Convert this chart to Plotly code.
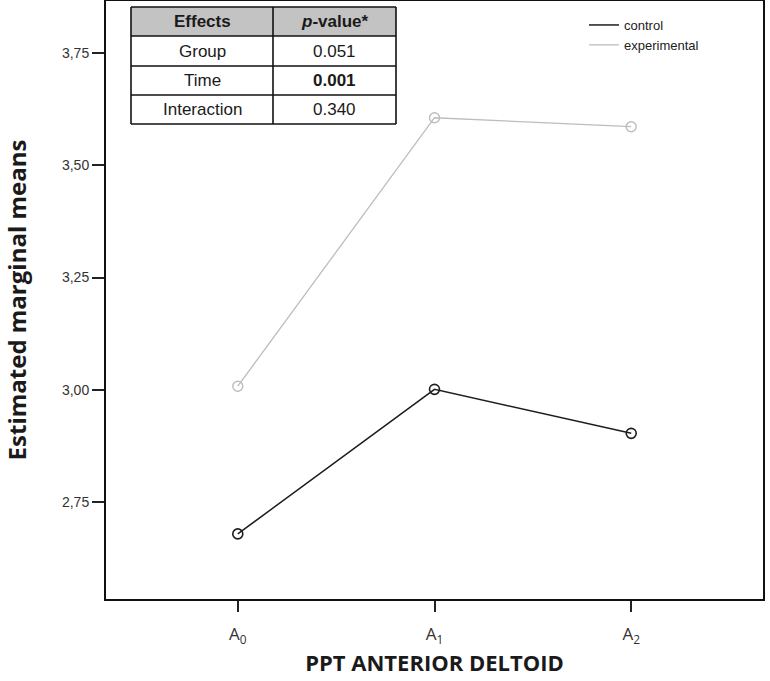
import plotly.graph_objects as go

# ---- data ----
time_points = ["A0", "A1", "A2"]
time_labels = ["A<sub>0</sub>", "A<sub>1</sub>", "A<sub>2</sub>"]
control_means = [2.679, 3.001, 2.903]
experimental_means = [3.008, 3.606, 3.586]
y_ticks = [2.75, 3.00, 3.25, 3.50, 3.75]

table_header = ["<b>Effects</b>", "<b><i>p</i>-value*</b>"]
table_effects = ["Group", "Time", "Interaction"]
table_pvalues = ["0.051", "<b>0.001</b>", "0.340"]

# ---- layout geometry (pixels) ----
W, H = 770, 681
L, R, T, B = 106, 7, 1, 82
PW, PH = W - L - R, H - T - B


def px(xp):
    return (xp - L) / PW


def py(yp):
    return (H - B - yp) / PH


fig = go.Figure()

fig.add_trace(go.Scatter(
    x=time_points, y=control_means, mode="lines+markers",
    line=dict(color="#1e1e1e", width=1.5),
    marker=dict(symbol="circle-open", size=10, color="#1e1e1e", line=dict(width=1.6)),
    showlegend=False, name="control"))
fig.add_trace(go.Scatter(
    x=time_points, y=experimental_means, mode="lines+markers",
    line=dict(color="#bdbdbd", width=1.3),
    marker=dict(symbol="circle-open", size=10, color="#bdbdbd", line=dict(width=1.4)),
    showlegend=False, name="experimental"))
# legend entries (line only)
fig.add_trace(go.Scatter(x=[None], y=[None], mode="lines", name="control",
                         line=dict(color="#1e1e1e", width=1.5)))
fig.add_trace(go.Scatter(x=[None], y=[None], mode="lines", name="experimental",
                         line=dict(color="#bdbdbd", width=1.3)))

# ---- table (shapes + annotations) ----
tx0, tx1, txm = 131, 396, 273
row_y = [7, 36, 66, 95, 124]
shapes = []
shapes.append(dict(type="rect", xref="paper", yref="paper",
                   x0=px(tx0), x1=px(tx1), y0=py(row_y[1]), y1=py(row_y[0]),
                   fillcolor="#c3c3c3", line=dict(width=0), layer="above"))
for yy in row_y:
    shapes.append(dict(type="line", xref="paper", yref="paper",
                       x0=px(tx0), x1=px(tx1), y0=py(yy), y1=py(yy),
                       line=dict(color="#111111", width=1.6), layer="above"))
for xx in (tx0, txm, tx1):
    shapes.append(dict(type="line", xref="paper", yref="paper",
                       x0=px(xx), x1=px(xx), y0=py(row_y[0]), y1=py(row_y[-1]),
                       line=dict(color="#111111", width=1.6), layer="above"))

annotations = []
col_c = [(tx0 + txm) / 2, (txm + tx1) / 2]
rows = [table_header] + [[e, p] for e, p in zip(table_effects, table_pvalues)]
for i, row in enumerate(rows):
    yc = (row_y[i] + row_y[i + 1]) / 2
    for j, txt in enumerate(row):
        annotations.append(dict(
            x=px(col_c[j]), y=py(yc), xref="paper", yref="paper",
            text=txt, showarrow=False, xanchor="center", yanchor="middle",
            font=dict(family="Liberation Sans, Arial", size=17, color="#1a1a1a")))

fig.update_layout(
    width=W, height=H,
    margin=dict(l=L, r=R, t=T, b=B, autoexpand=False),
    paper_bgcolor="white", plot_bgcolor="white",
    separators=",.",
    shapes=shapes, annotations=annotations,
    legend=dict(x=px(584), y=py(10), xanchor="left", yanchor="top",
                bgcolor="rgba(0,0,0,0)", tracegroupgap=0,
                font=dict(family="Liberation Sans, Arial", size=13, color="#222222")),
    xaxis=dict(
        type="category", range=[-0.67, 2.67],
        tickvals=time_points, ticktext=time_labels,
        showgrid=False, zeroline=False,
        showline=True, linecolor="#111111", linewidth=2, mirror=True,
        ticks="outside", ticklen=11, tickwidth=1.5, tickcolor="#222222",
        ticklabelstandoff=8,
        tickfont=dict(family="Open Sans", size=17, color="#333333"),
        title=dict(text="<b>PPT ANTERIOR DELTOID</b>", standoff=9,
                   font=dict(family="Open Sans", size=22, color="#1a1a1a")),
    ),
    yaxis=dict(
        range=[2.534, 3.866], tickvals=y_ticks, tickformat=".2f",
        showgrid=False, zeroline=False,
        showline=True, linecolor="#111111", linewidth=2, mirror=True,
        ticks="outside", ticklen=12, tickwidth=1.5, tickcolor="#222222",
        tickfont=dict(family="Liberation Sans, Arial", size=14, color="#333333"),
        title=dict(text="<b>Estimated marginal means</b>", standoff=31,
                   font=dict(family="Open Sans", size=24, color="#1a1a1a")),
    ),
)

fig.write_html("out.html", config={"displayModeBar": False},
               post_script="document.body.style.margin='0px';")
